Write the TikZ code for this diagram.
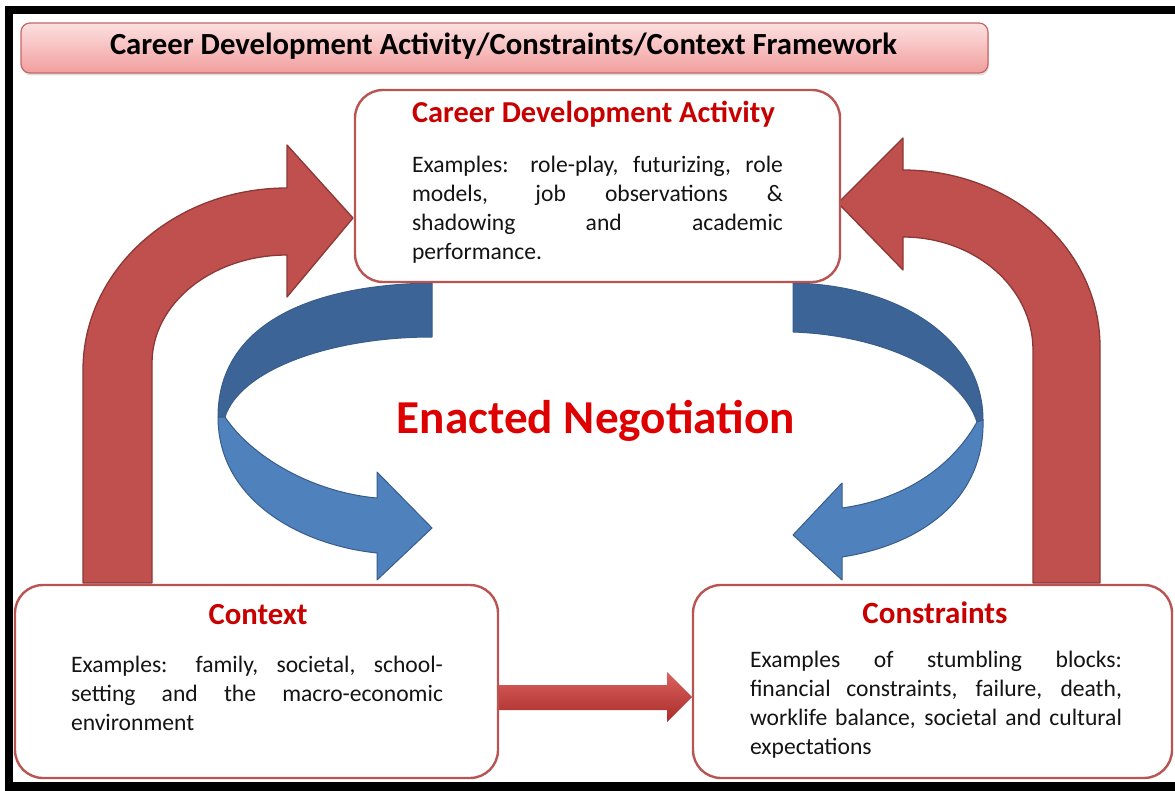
\documentclass[tikz,border=0pt]{standalone}
\usepackage{fontspec}
\usepackage{graphicx}
\setmainfont{Carlito}
\usetikzlibrary{shadows}

\definecolor{boxline}{RGB}{184,84,82}
\definecolor{redfill}{RGB}{192,80,77}
\definecolor{redline}{RGB}{140,56,54}
\definecolor{bluedark}{RGB}{60,100,150}
\definecolor{bluelight}{RGB}{79,129,189}
\definecolor{blueline}{RGB}{56,93,138}
\definecolor{headred}{RGB}{200,0,0}
\definecolor{bigred}{RGB}{222,0,0}
\definecolor{textcol}{RGB}{20,20,20}
\definecolor{pinktop}{RGB}{252,224,224}
\definecolor{pinkbot}{RGB}{242,158,158}
\definecolor{titleline}{RGB}{196,104,102}
\definecolor{linktop}{RGB}{218,98,94}
\definecolor{linkmid}{RGB}{196,48,46}
\definecolor{linkbot}{RGB}{170,44,42}

\pgfdeclarelayer{back}
\pgfsetlayers{back,main}

\newcommand\bodyfont{\fontsize{23.6}{29}\selectfont\color{textcol}}
\newcommand\jline[1]{\makebox[\linewidth][s]{#1}}

\begin{document}
\begin{tikzpicture}[x=1pt,y=-1pt,
  framebox/.style={draw=boxline, line width=2.4pt, fill=white,
    rounded corners=28pt, inner sep=0pt},
  titlebox/.style={draw=titleline, line width=1.2pt, rounded corners=9pt,
    top color=pinktop, bottom color=pinkbot, inner sep=0pt,
    drop shadow={shadow xshift=1pt, shadow yshift=-2.5pt, opacity=.25}},
  txt/.style={inner sep=0pt, outer sep=0pt},
  redarrow/.style={fill=redfill, draw=redline, line width=1.3pt, line join=round},
  backface/.style={fill=bluedark, draw=blueline, line width=1pt, line join=round},
  frontface/.style={fill=bluelight, draw=blueline, line width=1pt, line join=round},
]
\useasboundingbox (0,0) rectangle (1175,791);

% ---- boxes -------------------------------------------------------------
\node[titlebox, minimum width=967pt, minimum height=50pt] (title) at (504.5,48) {};
\node[framebox, minimum width=485pt, minimum height=192pt] (cda)  at (597.5,186) {};
\node[framebox, minimum width=483pt, minimum height=193pt] (ctx)  at (256.5,681.5) {};
\node[framebox, minimum width=479pt, minimum height=193pt] (cons) at (932.5,681.5) {};

% ---- texts -------------------------------------------------------------
\node[txt, anchor=base west] (titletext) at (110,55)
  {\resizebox{787pt}{!}{\bfseries\color{black}Career Development Activity/Constraints/Context Framework}};

\node[txt, anchor=base west] (cdahead) at (412,123)
  {\resizebox{363pt}{!}{\bfseries\color{headred}Career Development Activity}};
\node[txt, anchor=base west] (cdabody) at (412,173)
  {\bodyfont\parbox[t]{371pt}{%
    \jline{Examples: role-play, futurizing, role}\\
    \jline{models, job observations \&}\\
    \jline{shadowing and academic}\\
    performance.}};

\node[txt, anchor=base] (ctxhead) at (258,624)
  {\resizebox{99pt}{!}{\bfseries\color{headred}Context}};
\node[txt, anchor=base west] (ctxbody) at (71,672)
  {\bodyfont\parbox[t]{372pt}{%
    \jline{Examples: family, societal, school-}\\
    \jline{setting and the macro-economic}\\
    environment}};

\node[txt, anchor=base] (conshead) at (935,623)
  {\resizebox{145pt}{!}{\bfseries\color{headred}Constraints}};
\node[txt, anchor=base west] (consbody) at (750,667)
  {\bodyfont\parbox[t]{372pt}{%
    \jline{Examples of stumbling blocks:}\\
    \jline{financial constraints, failure, death,}\\
    \jline{worklife balance, societal and cultural}\\
    expectations}};

\node[txt, anchor=base] (enacted) at (596,433)
  {\resizebox{398pt}{!}{\bfseries\color{bigred}Enacted Negotiation}};

% ---- arrows, behind the boxes -------------------------------------------
\begin{pgfonlayer}{back}
\fill[white] (0,0) rectangle (1175,791);

% Context -> Career Development Activity (bent arrow, left)
\filldraw[redarrow] (83,583) -- (83,370)
  .. controls (83,269.5) and (174.3,188) .. (287,188)
  -- (287,145) -- (353,218) -- (287,297) -- (287,255)
  .. controls (212.4,255) and (152,303.4) .. (152,363)
  -- (152,583) -- cycle;

% Constraints -> Career Development Activity (bent arrow, right)
\filldraw[redarrow] (1100,583) -- (1100,347)
  .. controls (1100,249.2) and (1011.8,170) .. (903,170)
  -- (903,138) -- (838,203) -- (903,270) -- (903,237)
  .. controls (974.8,237) and (1033,287.6) .. (1033,350)
  -- (1033,583) -- cycle;

% Career Development Activity -> Context (folded ribbon, left)
\filldraw[backface] (432,283)
  .. controls (300,285) and (218,330) .. (218,417)
  -- (225,417)
  .. controls (240,370) and (330,337) .. (432,337) -- cycle;
\filldraw[frontface] (218,417)
  .. controls (218,500) and (300,545) .. (377,553)
  -- (377,580) -- (432,528) -- (377,472) -- (377,498)
  .. controls (310,492) and (250,455) .. (225,417) -- cycle;

% Career Development Activity -> Constraints (folded ribbon, right)
\filldraw[backface] (793,283)
  .. controls (900,285) and (983,340) .. (983,420)
  -- (977,422)
  .. controls (960,370) and (880,335) .. (793,332) -- cycle;
\filldraw[frontface] (983,420)
  .. controls (985,500) and (920,545) .. (842,557)
  -- (842,580) -- (793,535) -- (842,483) -- (842,508)
  .. controls (900,500) and (950,470) .. (977,422) -- cycle;

% Context -> Constraints (straight arrow)
\shade[top color=linktop, middle color=linkmid, bottom color=linkbot]
  (470,685) -- (667,685) -- (667,672) -- (692,697) -- (667,722)
  -- (667,710) -- (470,710) -- cycle;
\end{pgfonlayer}

% ---- black frame ---------------------------------------------------------
\fill[black] (5,6) rectangle (1175,14);
\fill[black] (5,6) rectangle (13,791);
\fill[black] (5,782) rectangle (1175,791);
\end{tikzpicture}
\end{document}
